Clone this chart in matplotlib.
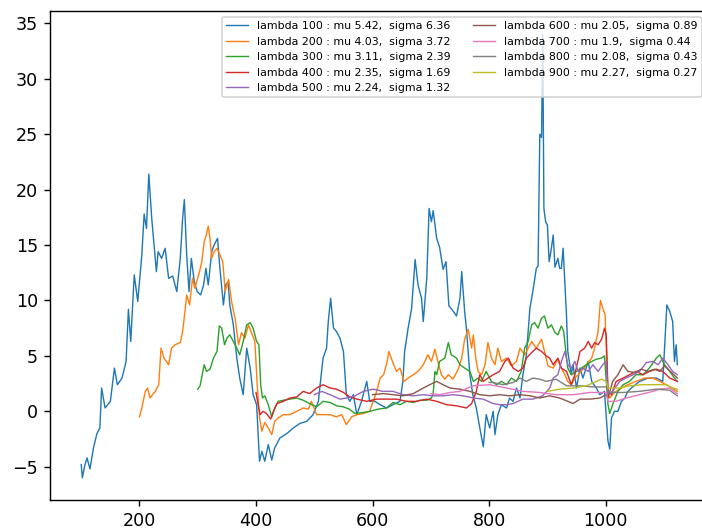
import matplotlib
matplotlib.use('Agg')
import matplotlib.pyplot as plt
import numpy as np


# arrival rates and the summary stats printed in the legend
lambdas = [100, 200, 300, 400, 500, 600, 700, 800, 900]
mus = [5.42, 4.03, 3.11, 2.35, 2.24, 2.05, 1.9, 2.08, 2.27]
sigmas = [6.36, 3.72, 2.39, 1.69, 1.32, 0.89, 0.44, 0.43, 0.27]

# lambda 100
x_100 = [100, 102, 106, 110, 115, 121, 127, 132, 135, 141, 150, 157, 162, 170, 177, 181, 185, 191, 197,
         204, 208, 212, 216, 221, 225, 229, 232, 238, 244, 250, 257, 264, 270, 274, 277, 281, 285, 289,
         294, 299, 305, 310, 314, 318, 324, 328, 334, 338, 344, 348, 352, 355, 361, 367, 372, 378, 384,
         390, 395, 401, 406, 410, 415, 421, 427, 432, 441, 453, 464, 475, 487, 498, 507, 510, 515, 521,
         524, 528, 533, 538, 544, 550, 555, 561, 567, 573, 581, 590, 595, 604, 613, 624, 635, 647, 652,
         655, 661, 667, 673, 678, 684, 687, 693, 697, 701, 704, 710, 715, 721, 726, 731, 736, 744, 750,
         753, 758, 761, 767, 772, 778, 784, 790, 795, 801, 807, 810, 815, 821, 830, 835, 841, 847, 853,
         858, 864, 870, 875, 881, 884, 887, 890, 892, 894, 897, 900, 903, 906, 910, 913, 918, 921, 924,
         927, 930, 933, 935, 941, 944, 950, 956, 961, 970, 976, 984, 990, 998, 1004, 1007, 1010, 1015,
         1021, 1027, 1033, 1038, 1044, 1058, 1073, 1087, 1098, 1105, 1110, 1115, 1118, 1121, 1123]
y_100 = [-4.8, -6.0, -4.9, -4.2, -5.2, -3.3, -2.0, -1.5, 2.1, 0.3, 0.9, 3.9, 2.4, 3.0, 4.5, 9.2, 6.3, 12.3, 9.9,
         14.1, 17.8, 16.5, 21.4, 17.4, 15.0, 12.6, 14.4, 13.8, 14.7, 12.0, 12.2, 10.8, 13.8, 17.4, 19.1, 14.1, 10.8, 13.8,
         11.7, 10.8, 10.5, 11.4, 12.9, 11.4, 14.4, 15.0, 15.6, 12.9, 9.6, 11.4, 11.7, 9.6, 7.8, 4.8, 3.0, 1.5, 5.7,
         3.9, 1.5, 0.6, -4.5, -3.6, -4.5, -3.0, -4.4, -3.3, -2.4, -2.0, -1.5, -1.1, -0.9, -0.3, 0.9, 2.4, 4.8, 5.7,
         8.1, 10.2, 7.5, 7.2, 6.6, 5.4, 1.5, 0.9, 1.5, -0.3, 0.9, 2.7, 0.9, 0.9, 0.6, 0.3, 0.6, 0.9, 2.7,
         5.4, 7.5, 9.3, 13.7, 11.4, 10.2, 8.1, 12.0, 18.3, 17.1, 18.1, 15.6, 14.8, 12.8, 13.5, 9.5, 9.2, 8.6, 10.2,
         12.6, 9.0, 7.5, 3.3, 1.5, 0.3, -1.5, -3.2, -0.3, -1.5, 0.0, -2.1, -0.3, 0.6, 0.3, 1.2, 0.9, 2.1, 1.2,
         3.3, 5.1, 9.3, 10.8, 12.9, 13.1, 25.0, 24.7, 34.0, 18.3, 17.1, 16.8, 13.5, 14.4, 15.9, 13.0, 13.8, 12.9, 12.9,
         14.7, 11.5, 8.4, 5.4, 3.3, 4.2, 2.1, 3.9, 3.0, 4.5, 2.7, 2.1, 1.5, 1.8, -2.7, -3.4, -0.6, 0.0,
         0.0, 0.9, 1.2, 1.8, 2.1, 2.7, 3.0, 3.0, 2.7, 9.6, 9.0, 8.1, 4.5, 6.0, 4.2]

# lambda 200
x_200 = [200, 204, 210, 214, 218, 227, 233, 237, 242, 250, 255, 261, 270, 274, 278, 281, 286, 291, 295,
         303, 307, 311, 314, 318, 321, 324, 328, 333, 338, 343, 347, 353, 358, 364, 370, 375, 381, 387,
         393, 398, 402, 406, 410, 415, 421, 427, 432, 438, 447, 458, 470, 481, 490, 495, 504, 515, 527,
         538, 547, 555, 564, 573, 584, 595, 607, 613, 619, 625, 628, 634, 641, 647, 654, 661, 670, 678,
         687, 695, 701, 707, 712, 718, 724, 730, 738, 747, 753, 758, 764, 770, 773, 777, 781, 787, 793,
         798, 804, 810, 815, 821, 830, 838, 847, 853, 861, 867, 873, 881, 890, 895, 901, 910, 918, 924,
         930, 935, 941, 947, 953, 958, 967, 976, 981, 987, 991, 995, 999, 1001, 1004, 1007, 1015, 1027,
         1038, 1052, 1067, 1081, 1093, 1104, 1113, 1123]
y_200 = [-0.5, 0.3, 1.8, 2.1, 1.2, 1.8, 2.4, 5.7, 4.8, 4.2, 5.7, 6.0, 6.2, 7.2, 9.0, 10.5, 9.6, 12.0, 11.1,
         12.6, 13.5, 15.3, 15.8, 16.7, 15.6, 13.8, 14.4, 14.7, 14.1, 13.5, 10.8, 11.9, 9.9, 8.4, 6.0, 7.1, 6.6, 7.8,
         7.0, 6.3, 2.4, -0.6, -1.8, -1.0, -1.5, -2.1, -0.9, -0.6, -0.3, -0.3, 0.0, 0.3, 0.2, 0.9, -0.3, -0.3, -0.3,
         -0.5, -0.3, -1.2, -0.5, -0.3, -0.2, 0.0, 1.8, 3.0, 3.3, 4.5, 5.4, 4.5, 3.6, 3.9, 2.7, 3.0, 3.3, 3.6,
         4.2, 5.1, 4.5, 5.6, 4.5, 3.3, 2.9, 3.3, 2.9, 3.8, 4.8, 6.5, 7.4, 5.7, 6.9, 4.8, 3.6, 3.3, 4.2,
         6.2, 4.8, 4.2, 5.7, 4.5, 4.8, 4.1, 4.5, 5.7, 5.1, 5.7, 6.3, 5.7, 6.5, 5.4, 4.1, 3.9, 4.7, 3.9,
         3.3, 2.7, 2.4, 3.0, 3.3, 3.6, 4.2, 4.8, 5.7, 7.2, 10.0, 9.3, 8.7, 5.7, 1.8, 1.2, 1.7, 2.1,
         2.4, 2.7, 3.0, 3.0, 2.7, 2.4, 2.1, 1.8]

# lambda 300
x_300 = [300, 304, 311, 315, 321, 327, 333, 337, 341, 346, 350, 355, 361, 367, 372, 378, 384, 390, 395,
         401, 405, 408, 411, 415, 421, 427, 432, 438, 447, 458, 470, 481, 492, 504, 515, 527, 538, 550,
         560, 570, 584, 595, 610, 624, 635, 647, 658, 670, 681, 693, 701, 704, 707, 710, 715, 724, 730,
         735, 744, 750, 758, 767, 773, 781, 787, 795, 804, 813, 821, 830, 838, 847, 855, 861, 867, 873,
         878, 884, 890, 895, 901, 907, 913, 918, 924, 928, 931, 935, 941, 950, 958, 967, 976, 984, 993,
         998, 1004, 1007, 1012, 1021, 1030, 1041, 1052, 1064, 1075, 1087, 1093, 1101, 1110, 1118, 1123]
y_300 = [2.0, 2.3, 4.2, 3.6, 3.8, 4.8, 5.4, 7.7, 7.5, 6.0, 6.6, 6.9, 6.3, 5.7, 5.1, 6.3, 7.8, 8.0, 7.5,
         6.3, 6.0, 2.4, 1.2, 1.4, 0.6, -0.5, 0.3, 0.9, 1.0, 1.1, 1.2, 1.0, 0.7, 0.4, 0.9, 0.8, 0.5, 0.4,
         0.2, -0.2, -0.1, 0.0, 0.2, 0.3, 0.8, 0.6, 0.9, 0.8, 1.0, 1.0, 1.2, 1.6, 3.6, 3.3, 4.5, 4.8, 6.2,
         5.1, 4.8, 4.2, 3.9, 3.6, 2.7, 3.0, 2.7, 3.6, 2.7, 2.4, 2.7, 2.4, 3.0, 2.7, 3.6, 5.7, 6.3, 7.8,
         8.0, 7.5, 8.4, 8.6, 7.5, 7.8, 7.1, 6.9, 7.7, 7.2, 5.7, 3.9, 3.3, 3.6, 3.9, 4.2, 4.5, 4.7, 4.8,
         5.0, 0.6, -0.2, 0.6, 1.8, 2.4, 2.7, 3.3, 3.3, 3.9, 4.8, 5.1, 4.2, 3.6, 3.0, 2.7]

# lambda 400
x_400 = [400, 404, 407, 412, 418, 425, 430, 436, 447, 458, 470, 481, 492, 504, 515, 527, 538, 550, 561,
         573, 590, 607, 624, 641, 658, 675, 693, 710, 727, 744, 761, 770, 778, 784, 790, 798, 807, 818,
         827, 833, 841, 850, 858, 864, 873, 881, 890, 898, 904, 910, 918, 924, 933, 941, 947, 956, 964,
         970, 976, 981, 987, 993, 998, 1001, 1004, 1010, 1018, 1030, 1041, 1052, 1064, 1075, 1087, 1098,
         1110, 1123]
y_400 = [1.7, 0.5, -0.3, 0.0, -0.2, -0.7, 0.0, 0.7, 0.9, 1.2, 1.3, 1.8, 1.6, 2.1, 2.4, 2.1, 2.0, 1.7, 1.3,
         1.1, 0.9, 1.1, 1.1, 1.1, 0.9, 0.9, 1.1, 0.9, 0.6, 0.5, 0.3, 0.7, 1.8, 3.3, 2.7, 3.0, 3.3, 3.6,
         4.5, 4.8, 3.9, 3.6, 3.9, 4.8, 5.3, 5.7, 5.4, 5.0, 4.8, 4.2, 4.8, 3.9, 3.6, 2.4, 3.3, 5.4, 5.7,
         6.3, 5.7, 6.2, 6.0, 6.5, 7.5, 6.9, 1.8, 1.5, 2.7, 3.0, 3.3, 3.6, 3.3, 3.6, 3.8, 3.6,
         3.0, 2.7]

# lambda 500
x_500 = [500, 513, 527, 544, 555, 570, 584, 601, 618, 635, 652, 670, 687, 704, 721, 738, 755, 773, 790,
         807, 818, 830, 841, 858, 875, 892, 904, 910, 918, 924, 930, 935, 941, 947, 953, 961, 970, 978,
         987, 995, 1001, 1004, 1012, 1024, 1035, 1047, 1058, 1070, 1081, 1090, 1098, 1107, 1115, 1123]
y_500 = [1.5, 1.8, 1.5, 1.1, 1.2, 1.4, 1.8, 2.0, 1.8, 1.8, 1.5, 1.4, 1.5, 1.4, 1.4, 1.5, 1.4, 1.2, 1.1,
         0.7, 0.6, 0.6, 0.7, 1.1, 1.1, 1.4, 2.1, 3.0, 3.3, 4.5, 5.4, 4.2, 3.9, 4.5, 3.6, 3.9, 3.6, 4.2,
         3.6, 4.2, 4.5, 1.5, 1.8, 2.7, 3.0, 3.3, 3.6, 4.4, 4.5, 4.2, 4.8, 4.2, 3.6, 3.3]

# lambda 600
x_600 = [600, 618, 635, 652, 670, 687, 698, 710, 721, 733, 750, 767, 784, 801, 818, 835, 853, 870, 887,
         904, 921, 935, 944, 956, 973, 990, 1001, 1004, 1012, 1021, 1030, 1038, 1050, 1061, 1073, 1084,
         1093, 1101, 1113, 1123]
y_600 = [1.5, 1.6, 1.5, 1.4, 1.6, 2.1, 2.4, 2.7, 2.4, 2.1, 2.0, 1.8, 1.5, 1.4, 1.5, 1.4, 1.5, 1.4, 1.2,
         1.4, 1.2, 0.9, 0.7, 1.1, 1.1, 1.2, 1.5, 1.2, 2.7, 3.3, 4.2, 3.6, 3.5, 3.8, 3.6, 3.8,
         3.6, 4.1, 3.5, 3.0]

# lambda 700
x_700 = [700, 715, 733, 750, 772, 801, 830, 858, 887, 915, 944, 973, 1001, 1004, 1018, 1035, 1058, 1081,
         1093, 1110, 1123]
y_700 = [1.6, 1.5, 1.7, 1.8, 2.3, 2.4, 2.1, 1.8, 1.7, 1.5, 1.5, 1.7, 1.7, 0.9, 0.9, 1.2, 1.5, 1.8,
         2.0, 2.1, 1.6]

# lambda 800
x_800 = [800, 807, 824, 841, 853, 864, 875, 887, 898, 915, 933, 956, 978, 1001, 1004, 1030, 1058, 1087,
         1110, 1123]
y_800 = [2.6, 2.6, 2.4, 2.6, 3.0, 2.7, 3.0, 2.9, 2.7, 2.9, 2.3, 2.3, 2.2, 2.2, 1.7, 1.7, 1.8, 2.0,
         1.9, 1.4]

# lambda 900
x_900 = [900, 921, 944, 967, 984, 993, 1001, 1004, 1024, 1041, 1064, 1087, 1104, 1115, 1123]
y_900 = [1.8, 2.0, 2.1, 2.3, 2.7, 2.9, 2.7, 2.1, 2.1, 2.3, 2.4, 2.4, 2.4, 2.1, 2.0]

xs = [x_100, x_200, x_300, x_400, x_500, x_600, x_700, x_800, x_900]
ys = [y_100, y_200, y_300, y_400, y_500, y_600, y_700, y_800, y_900]


def main():
    dpi = 126
    fig = plt.figure(figsize=(702 / dpi, 528 / dpi), dpi=dpi)
    ax = fig.add_axes([0.0717, 0.053, 0.9355, 0.926])

    for lam, mu, sigma, x, y in zip(lambdas, mus, sigmas, xs, ys):
        label = 'lambda {} : mu {},  sigma {}'.format(lam, mu, sigma)
        ax.plot(x, y, linewidth=0.8, label=label)

    ax.set_xlim(47, 1174)
    ax.set_ylim(-8.0, 36.1)
    ax.set_yticks(np.arange(-5, 36, 5))
    ax.legend(loc='upper right', ncol=2, fontsize=6.3)

    fig.savefig('out.png', dpi=dpi)


if __name__ == '__main__':
    main()
